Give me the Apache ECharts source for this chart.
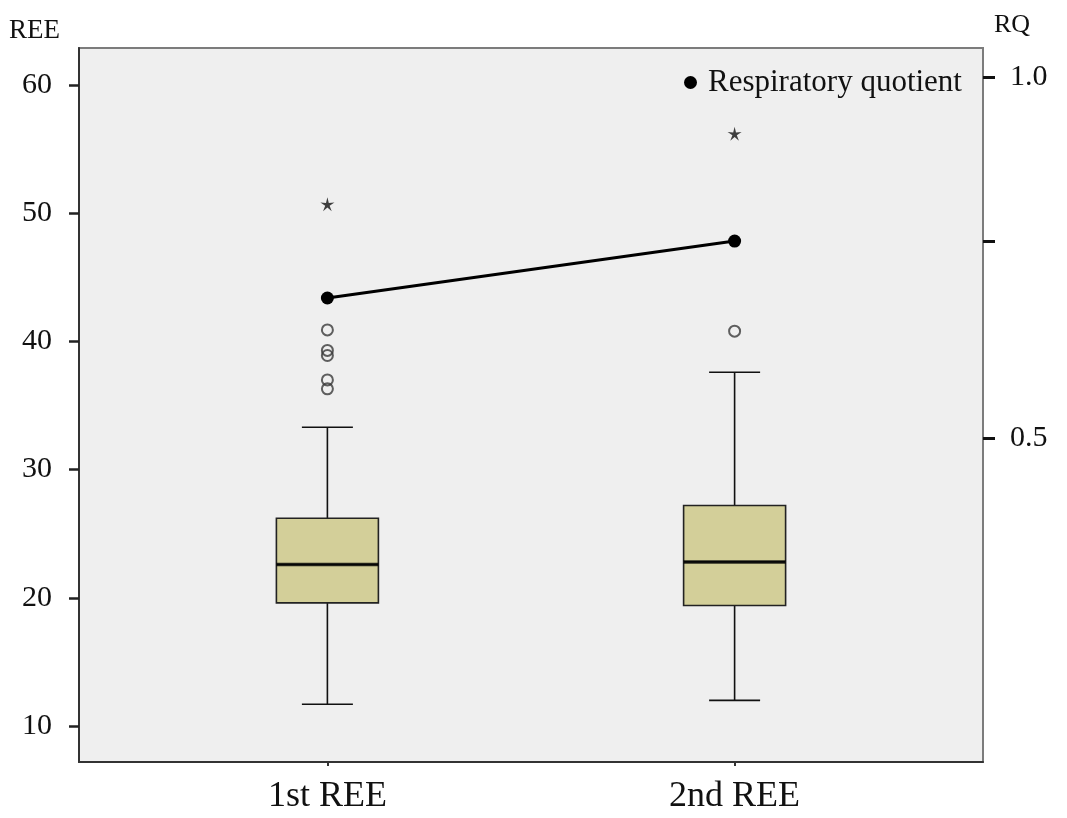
<!DOCTYPE html>
<html><head><meta charset="utf-8">
<script src="https://cdn.jsdelivr.net/npm/echarts@6/dist/echarts.min.js"></script>
<style>html,body{margin:0;padding:0;background:#fff}#c{width:1067px;height:818px}</style>
</head><body><div id="c"></div>
<script>
// ---- data ----
const categories = ['1st REE', '2nd REE'];
const whiskerLow = [11.7, 12.0];
const quartile1 = [19.6, 19.4];
const medians = [22.6, 22.8];
const quartile3 = [26.2, 27.2];
const whiskerHigh = [33.3, 37.6];
const outlierValues = [[40.9, 39.3, 38.9, 37.0, 36.3], [40.8]];
const extremeValues = [[50.7], [56.2]];
const rqValues = [0.694, 0.773];
const reeTickValues = [10, 20, 30, 40, 50, 60];
const rqTickValues = [0.5, 0.773, 1.0];
const rqLabelValues = [0.5, 1.0];
const categoryPositions = [0, 1];

// ---- build ----
const FONT = '"Liberation Serif", "DejaVu Serif", serif';
const chart = echarts.init(document.getElementById('c'), null, {renderer: 'canvas'});

const whiskerData = categoryPositions.map((x, i) => [x, whiskerLow[i], medians[i], medians[i], medians[i], whiskerHigh[i]]);
const boxData = categoryPositions.map((x, i) => [x, quartile1[i], quartile1[i], medians[i], quartile3[i], quartile3[i]]);
const medianData = categoryPositions.map((x, i) => [x, medians[i]]);
const outlierData = [];
outlierValues.forEach((arr, i) => arr.forEach(v => outlierData.push([categoryPositions[i], v])));
const extremeData = [];
extremeValues.forEach((arr, i) => arr.forEach(v => extremeData.push([categoryPositions[i], v])));
const rqData = categoryPositions.map((x, i) => [x, rqValues[i]]);

const starPath = 'path://M0,-10 L1.9,-2.5 L9.51,-3.09 L3.0,1.0 L5.88,8.09 L0,3.2 L-5.88,8.09 L-3.0,1.0 L-9.51,-3.09 L-1.9,-2.5 Z';

const option = {
  backgroundColor: '#fff',
  animation: false,
  grid: {
    left: 79, right: 84, top: 48, bottom: 56,
    show: true, backgroundColor: '#efefef', borderColor: '#7c7c7c', borderWidth: 2
  },
  legend: {
    data: ['Respiratory quotient'],
    icon: 'circle', itemWidth: 13, itemHeight: 13,
    left: 679, top: 62,
    textStyle: {fontFamily: FONT, fontSize: 31, color: '#111', padding: [0, 0, 0, 6]}
  },
  xAxis: [{
    type: 'value', min: -0.61, max: 1.61, position: 'bottom',
    splitLine: {show: false},
    axisLine: {show: true, onZero: false, lineStyle: {color: '#333', width: 2}},
    axisTick: {show: true, customValues: categoryPositions, length: 4, lineStyle: {color: '#333', width: 2}},
    axisLabel: {customValues: categoryPositions, formatter: v => categories[Math.round(v)],
      fontFamily: FONT, fontSize: 36, color: '#111', margin: 17}
  }, {
    type: 'value', min: -0.61, max: 1.61, show: false, position: 'top',
    axisLine: {onZero: false}
  }],
  yAxis: [{
    type: 'value', min: 7.19, max: 62.89, position: 'left',
    name: 'REE', nameLocation: 'end', nameGap: 4,
    nameTextStyle: {fontFamily: FONT, fontSize: 27, color: '#111', align: 'right', verticalAlign: 'bottom', padding: [0, 19, 0, 0]},
    splitLine: {show: false},
    axisLine: {show: true, onZero: false, lineStyle: {color: '#333', width: 2}},
    axisTick: {show: true, customValues: reeTickValues, length: 10, lineStyle: {color: '#222', width: 2.5}},
    axisLabel: {customValues: reeTickValues, fontFamily: FONT, fontSize: 30, color: '#111', margin: 27}
  }, {
    type: 'value', min: 0.05, max: 1.041, position: 'right',
    name: 'RQ', nameLocation: 'end', nameGap: 10,
    nameTextStyle: {fontFamily: FONT, fontSize: 26, color: '#111', align: 'left', verticalAlign: 'bottom', padding: [0, 0, 0, 11]},
    splitLine: {show: false},
    axisLine: {show: true, onZero: false, lineStyle: {color: '#7c7c7c', width: 2}},
    axisTick: {show: true, customValues: rqTickValues, length: 12, lineStyle: {color: '#111', width: 3}},
    axisLabel: {customValues: rqLabelValues, formatter: v => v.toFixed(1), fontFamily: FONT, fontSize: 30, color: '#111', margin: 27}
  }],
  series: [
    {
      type: 'boxplot', name: 'whiskers', xAxisIndex: 1, yAxisIndex: 0,
      boxWidth: [51, 51], z: 2, silent: true,
      itemStyle: {color: 'transparent', borderColor: '#111', borderWidth: 1.6},
      data: whiskerData
    },
    {
      type: 'boxplot', name: 'REE', xAxisIndex: 0, yAxisIndex: 0,
      boxWidth: [102, 102], z: 3, silent: true,
      itemStyle: {color: '#d3cf99', borderColor: '#222', borderWidth: 1.6},
      data: boxData
    },
    {
      type: 'scatter', name: 'median', xAxisIndex: 0, yAxisIndex: 0, z: 4, silent: true,
      symbol: 'rect', symbolSize: [102, 3.5], itemStyle: {color: '#000'},
      data: medianData
    },
    {
      type: 'scatter', name: 'outliers', xAxisIndex: 0, yAxisIndex: 0, z: 4, silent: true,
      symbol: 'circle', symbolSize: 11,
      itemStyle: {color: 'transparent', borderColor: '#3a3a3a', borderWidth: 2},
      data: outlierData
    },
    {
      type: 'scatter', name: 'extremes', xAxisIndex: 0, yAxisIndex: 0, z: 4, silent: true,
      symbol: starPath, symbolSize: 14, itemStyle: {color: '#111'},
      data: extremeData
    },
    {
      type: 'line', name: 'Respiratory quotient', xAxisIndex: 0, yAxisIndex: 1, z: 5,
      symbol: 'circle', symbolSize: 13, showSymbol: true,
      lineStyle: {color: '#000', width: 3}, itemStyle: {color: '#000'},
      data: rqData
    }
  ]
};
chart.setOption(option);
</script>
</body></html>
